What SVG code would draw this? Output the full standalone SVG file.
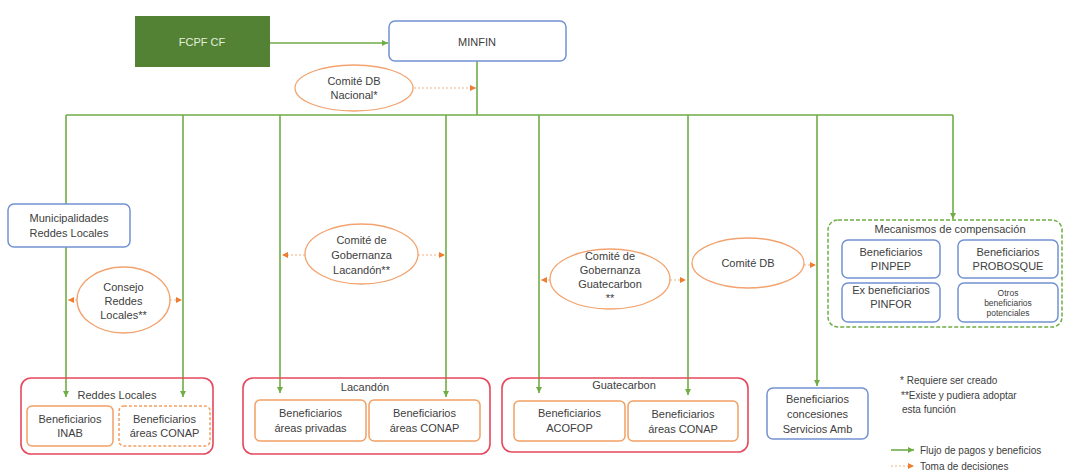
<svg xmlns="http://www.w3.org/2000/svg" width="1067" height="472" viewBox="0 0 1067 472">
<defs>
<marker id="ag" markerUnits="userSpaceOnUse" markerWidth="7" markerHeight="7" refX="6" refY="3.5" orient="auto"><path d="M0,0.5 L6,3.5 L0,6.5 z" fill="#70ad47"/></marker>
<marker id="ao" markerUnits="userSpaceOnUse" markerWidth="7" markerHeight="7" refX="6" refY="3.5" orient="auto"><path d="M0,0.5 L6,3.5 L0,6.5 z" fill="#ed7d31"/></marker>
</defs>
<style>
text{font-family:"Liberation Sans",Arial,sans-serif;font-size:11px;fill:#404040;text-anchor:middle}
.g{stroke:#70ad47;stroke-width:1.6;fill:none}
.ga{stroke:#70ad47;stroke-width:1.6;fill:none;marker-end:url(#ag)}
.oa{stroke:#f4b183;stroke-width:1.2;stroke-dasharray:2,2;fill:none;marker-end:url(#ao)}
.blue{fill:#fff;stroke:#7292d2;stroke-width:1.5}
.ell{fill:#fff;stroke:#f2a36f;stroke-width:1.3}
.red{fill:none;stroke:#e6485c;stroke-width:1.6}
.org{fill:#fff;stroke:#f2a064;stroke-width:1.5}
.l{text-anchor:start}
</style>
<g id="connectors">
<path class="ga" d="M270,43 H388"/>
<path class="g" d="M477,61 V115 M66,115 H953"/>
<path class="ga" d="M66,115 V397"/>
<path class="ga" d="M183,115 V397"/>
<path class="ga" d="M280,115 V393"/>
<path class="ga" d="M446,115 V397"/>
<path class="ga" d="M539,115 V393"/>
<path class="ga" d="M688,115 V395"/>
<path class="ga" d="M817,115 V386"/>
<path class="ga" d="M953,115 V219"/>
<path class="oa" d="M414,88 H476"/>
<path class="oa" d="M77,300 H68"/>
<path class="oa" d="M170,300 H182"/>
<path class="oa" d="M305,255 H282"/>
<path class="oa" d="M418,255 H445"/>
<path class="oa" d="M550,280 H541"/>
<path class="oa" d="M670,280 H686"/>
<path class="oa" d="M804,265 H816"/>
</g>
<g id="fcpf"><rect x="135" y="16" width="135" height="51" fill="#548235"/><text x="202" y="46" style="fill:#e2efd9">FCPF CF</text></g>
<g id="minfin"><rect class="blue" x="389" y="21" width="177" height="40" rx="6"/><text x="477" y="46">MINFIN</text></g>
<g id="comite-nacional"><ellipse class="ell" cx="354" cy="88" rx="59" ry="23"/><text x="354" y="85">Comité DB</text><text x="354" y="99">Nacional*</text></g>
<g id="municipalidades"><rect class="blue" x="8" y="204" width="122" height="43" rx="6"/><text x="69" y="222">Municipalidades</text><text x="69" y="237">Reddes Locales</text></g>
<g id="consejo"><ellipse class="ell" cx="123.5" cy="300" rx="46.5" ry="33"/><text x="123.5" y="291">Consejo</text><text x="123.5" y="305">Reddes</text><text x="123.5" y="319">Locales**</text></g>
<g id="comite-lacandon"><ellipse class="ell" cx="361.5" cy="254" rx="56.5" ry="30"/><text x="361.5" y="244">Comité de</text><text x="361.5" y="259">Gobernanza</text><text x="361.5" y="274">Lacandón**</text></g>
<g id="comite-guatecarbon"><ellipse class="ell" cx="610" cy="279" rx="60" ry="30"/><text x="610" y="260">Comité de</text><text x="610" y="274">Gobernanza</text><text x="610" y="288">Guatecarbon</text><text x="610" y="302">**</text></g>
<g id="comite-db"><ellipse class="ell" cx="748" cy="263" rx="56" ry="25"/><text x="748" y="267">Comité DB</text></g>
<g id="reddes-locales"><rect class="red" x="21" y="378" width="192" height="76" rx="10"/><text x="117" y="399">Reddes Locales</text>
<rect class="org" x="27" y="406" width="86" height="40" rx="5"/><text x="70" y="423">Beneficiarios</text><text x="70" y="437">INAB</text>
<rect class="org" x="119" y="406" width="91" height="40" rx="5" style="stroke-dasharray:3,2"/><text x="164.5" y="423">Beneficiarios</text><text x="164.5" y="437">áreas CONAP</text></g>
<g id="lacandon"><rect class="red" x="243" y="378" width="247" height="76" rx="10"/><text x="365" y="391">Lacandón</text>
<rect class="org" x="255" y="400" width="111" height="41" rx="5"/><text x="310.5" y="417">Beneficiarios</text><text x="310.5" y="432">áreas privadas</text>
<rect class="org" x="369" y="400" width="111" height="41" rx="5"/><text x="424.5" y="417">Beneficiarios</text><text x="424.5" y="432">áreas CONAP</text></g>
<g id="guatecarbon"><rect class="red" x="502" y="378" width="246" height="74" rx="10"/><text x="624" y="389">Guatecarbon</text>
<rect class="org" x="514" y="401" width="111" height="40" rx="5"/><text x="569.5" y="417">Beneficiarios</text><text x="569.5" y="432">ACOFOP</text>
<rect class="org" x="628" y="401" width="110" height="40" rx="5"/><text x="683" y="418">Beneficiarios</text><text x="683" y="433">áreas CONAP</text></g>
<g id="concesiones"><rect class="blue" x="767" y="388" width="101" height="51" rx="6"/><text x="817.5" y="403">Beneficiarios</text><text x="817.5" y="418">concesiones</text><text x="817.5" y="433">Servicios Amb</text></g>
<g id="mecanismos"><rect x="828" y="220" width="234" height="107" rx="10" fill="#fff" stroke="#70ad47" stroke-width="1.5" stroke-dasharray="4,2"/><text x="950" y="233">Mecanismos de compensación</text>
<rect class="blue" x="842" y="240" width="98" height="38" rx="6"/><text x="891" y="256">Beneficiarios</text><text x="891" y="270">PINPEP</text>
<rect class="blue" x="958" y="240" width="100" height="38" rx="6"/><text x="1008" y="256">Beneficiarios</text><text x="1008" y="270">PROBOSQUE</text>
<rect class="blue" x="842" y="283" width="98" height="39" rx="6"/><text x="891" y="294">Ex beneficiarios</text><text x="891" y="308">PINFOR</text>
<rect class="blue" x="958" y="283" width="100" height="39" rx="6"/><text x="1008" y="296" style="font-size:8.5px">Otros</text><text x="1008" y="306" style="font-size:8.5px">beneficiarios</text><text x="1008" y="316" style="font-size:8.5px">potenciales</text></g>
<g id="legend">
<text class="l" x="900" y="384" style="font-size:10px">* Requiere ser creado</text>
<text class="l" x="901" y="399" style="font-size:10px">**Existe y pudiera adoptar</text>
<text class="l" x="902" y="413" style="font-size:10px">esta función</text>
<path class="ga" d="M891,450 H914"/><text class="l" x="920" y="454" style="font-size:10px">Flujo de pagos y beneficios</text>
<path class="oa" d="M891,466 H914"/><text class="l" x="920" y="470" style="font-size:10px">Toma de decisiones</text>
</g>
</svg>
